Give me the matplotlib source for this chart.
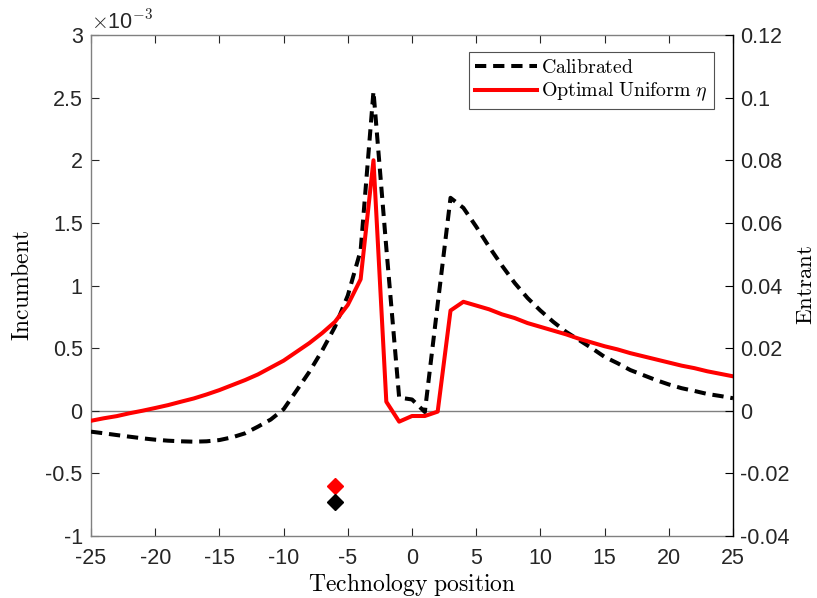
import numpy as np
import matplotlib
matplotlib.use("Agg")
import matplotlib.pyplot as plt

plt.rcParams["mathtext.fontset"] = "cm"
plt.rcParams["font.family"] = ["Liberation Sans", "DejaVu Sans"]

# Technology grid
tech = list(range(-25, 26))

# Incumbent response (x 1e-3), calibrated parameters
calibrated = [
    -0.167, -0.180, -0.194, -0.207, -0.220, -0.231, -0.239, -0.244, -0.247, -0.244,
    -0.234, -0.212, -0.180, -0.127, -0.070, 0.012, 0.160, 0.310, 0.480, 0.670,
    0.920, 1.280, 2.550, 1.300, 0.105, 0.090, -0.010, 0.850, 1.700, 1.620,
    1.470, 1.310, 1.160, 1.020, 0.900, 0.800, 0.710, 0.630, 0.565, 0.500,
    0.430, 0.380, 0.325, 0.285, 0.245, 0.210, 0.180, 0.158, 0.134, 0.118,
    0.100,
]

# Incumbent response (x 1e-3), optimal uniform eta
optimal = [
    -0.080, -0.060, -0.043, -0.020, 0.000, 0.022, 0.045, 0.072, 0.098, 0.130,
    0.165, 0.205, 0.245, 0.290, 0.345, 0.400, 0.470, 0.540, 0.620, 0.710,
    0.845, 1.050, 2.000, 0.072, -0.087, -0.042, -0.042, -0.007, 0.800, 0.870,
    0.840, 0.810, 0.770, 0.740, 0.700, 0.670, 0.640, 0.610, 0.575, 0.545,
    0.515, 0.490, 0.460, 0.435, 0.410, 0.385, 0.360, 0.340, 0.315, 0.295,
    0.275,
]

# Single-point markers at the incumbent's own position
marker_x = [-6, -6]
marker_y = [-0.60, -0.73]
marker_colors = ["red", "black"]

series_labels = [r"$\mathrm{Calibrated}$", r"$\mathrm{Optimal\ Uniform}\ \eta$"]

left_ticks = [-1, -0.5, 0, 0.5, 1, 1.5, 2, 2.5, 3]
left_ticklabels = ["-1", "-0.5", "0", "0.5", "1", "1.5", "2", "2.5", "3"]
right_ticks = [-0.04, -0.02, 0, 0.02, 0.04, 0.06, 0.08, 0.1, 0.12]
right_ticklabels = ["-0.04", "-0.02", "0", "0.02", "0.04", "0.06", "0.08", "0.1", "0.12"]
x_ticks = list(range(-25, 26, 5))

fig = plt.figure(figsize=(8.17, 5.98), dpi=100)
ax = fig.add_axes([91 / 817, 1 - 536 / 598, (733 - 91) / 817, (536 - 35) / 598])

ax.axhline(0, color="#808080", lw=1.0, zorder=1)
ax.plot(tech, calibrated, color="black", lw=2.9, ls=(0, (2.8, 1.7)),
        label=series_labels[0], zorder=3)
ax.plot(tech, optimal, color="red", lw=2.9, label=series_labels[1], zorder=4)
for mx, my, mc in zip(marker_x, marker_y, marker_colors):
    ax.plot(mx, my, marker="D", ms=8, color=mc, mec=mc, zorder=5)

ax.set_xlim(-25, 25)
ax.set_ylim(-1, 3)
ax.set_xticks(x_ticks)
ax.set_xticklabels([str(t) for t in x_ticks])
ax.set_yticks(left_ticks)
ax.set_yticklabels(left_ticklabels)
ax.tick_params(axis="both", direction="in", length=6, width=0.8,
               color="#262626", labelsize=15.5, labelcolor="#262626")
ax.tick_params(axis="y", pad=6)
ax.tick_params(axis="x", top=True, pad=9)
for side in ["left", "top", "bottom"]:
    ax.spines[side].set_color("#808080")
    ax.spines[side].set_linewidth(1.0)
ax.spines["right"].set_visible(False)

ax.set_xlabel(r"$\mathrm{Technology\ position}$", fontsize=17, labelpad=1)
ax.set_ylabel(r"$\mathrm{Incumbent}$", fontsize=17, labelpad=8)
ax.text(0.0, 1.003, r"$\times$10$^{-3}$", transform=ax.transAxes,
        fontsize=15.5, color="#262626", ha="left", va="bottom",
        family=["Liberation Sans"])

ax2 = ax.twinx()
ax2.set_ylim(-0.04, 0.12)
ax2.set_yticks(right_ticks)
ax2.set_yticklabels(right_ticklabels)
ax2.tick_params(axis="y", direction="in", length=6, width=0.8, color="black",
                labelsize=15.5, labelcolor="#262626", pad=5)
for side in ["left", "top", "bottom"]:
    ax2.spines[side].set_visible(False)
ax2.spines["right"].set_color("black")
ax2.spines["right"].set_linewidth(1.0)
ax2.set_ylabel(r"$\mathrm{Entrant}$", fontsize=16.5, labelpad=3)

leg = ax.legend(loc="upper right", bbox_to_anchor=(0.97, 0.966),
                fontsize=14.3, frameon=True, fancybox=False, handlelength=3.1,
                handletextpad=0.2, borderpad=0.3, labelspacing=0.2,
                borderaxespad=0)
leg.get_frame().set_edgecolor("#262626")
leg.get_frame().set_linewidth(0.8)

fig.savefig("out.png", dpi=100)
